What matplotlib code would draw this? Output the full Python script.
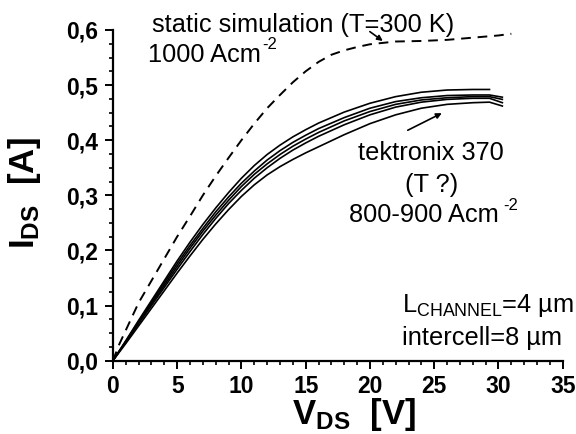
import matplotlib
matplotlib.use('Agg')
import matplotlib.pyplot as plt
from matplotlib.ticker import MultipleLocator, FixedLocator

plt.rcParams['font.family'] = 'Liberation Sans'
plt.rcParams['mathtext.fontset'] = 'custom'
plt.rcParams['mathtext.rm'] = 'Liberation Sans'
plt.rcParams['mathtext.bf'] = 'Liberation Sans:bold'
plt.rcParams['mathtext.it'] = 'Liberation Sans:italic'

# static simulation (T=300 K), dashed
v_sim = [0, 0.5, 1, 2, 3, 4, 5, 6, 7, 8, 9, 10, 11, 12, 13, 14, 15, 16, 17, 18,
         19, 20, 22, 24, 26, 28, 30, 31]
i_sim = [0, 0.03, 0.055, 0.105, 0.145, 0.185, 0.225, 0.262, 0.30, 0.335, 0.368,
         0.40, 0.43, 0.458, 0.482, 0.505, 0.525, 0.542, 0.555, 0.563, 0.569,
         0.574, 0.579, 0.58, 0.582, 0.586, 0.59, 0.593]

# tektronix 370 measured traces
v_meas = [0, 1, 2, 3, 4, 5, 6, 7, 8, 9, 10, 11, 12, 13, 14, 15, 16, 18, 20,
          22, 24, 26, 28, 29.3, 30.3]
i_meas_a = [0, 0.036, 0.073, 0.109, 0.145, 0.181, 0.215, 0.247, 0.277, 0.305,
            0.331, 0.354, 0.374, 0.391, 0.406, 0.419, 0.431, 0.451, 0.467, 0.479,
            0.487, 0.491, 0.492, 0.492, None]
i_meas_b = [0, 0.035, 0.071, 0.106, 0.141, 0.176, 0.209, 0.240, 0.270, 0.297,
            0.322, 0.344, 0.364, 0.381, 0.396, 0.409, 0.421, 0.441, 0.458, 0.470,
            0.477, 0.481, 0.482, 0.482, 0.478]
i_meas_c = [0, 0.034, 0.069, 0.103, 0.137, 0.171, 0.204, 0.235, 0.264, 0.291,
            0.316, 0.338, 0.357, 0.374, 0.389, 0.402, 0.414, 0.435, 0.452, 0.465,
            0.473, 0.477, 0.479, 0.479, 0.474]
i_meas_d = [0, 0.033, 0.067, 0.100, 0.133, 0.166, 0.198, 0.229, 0.258, 0.285,
            0.309, 0.331, 0.350, 0.367, 0.382, 0.395, 0.407, 0.428, 0.446, 0.460,
            0.469, 0.474, 0.476, 0.476, 0.468]
i_meas_e = [0, 0.031, 0.063, 0.095, 0.127, 0.159, 0.190, 0.220, 0.248, 0.274,
            0.298, 0.319, 0.337, 0.352, 0.365, 0.377, 0.388, 0.410, 0.430, 0.446,
            0.458, 0.465, 0.468, 0.469, 0.462]

x_ticks = [0, 5, 10, 15, 20, 25, 30, 35]
x_labels = ['0', '5', '10', '15', '20', '25', '30', '35']
y_ticks = [0.0, 0.1, 0.2, 0.3, 0.4, 0.5, 0.6]
y_labels = ['0,0', '0,1', '0,2', '0,3', '0,4', '0,5', '0,6']

fig = plt.figure(figsize=(5.76, 4.34), dpi=100)
ax = fig.add_axes([0.196, 0.169, 0.781, 0.762])

ax.plot(v_sim, i_sim, color='black', lw=1.4, dashes=(5, 3.5))
for trace in [i_meas_a, i_meas_b, i_meas_c, i_meas_d, i_meas_e]:
    pts = [(v, i) for v, i in zip(v_meas, trace) if i is not None]
    ax.plot([p[0] for p in pts], [p[1] for p in pts], color='black', lw=1.2)

ax.set_xlim(0, 35)
ax.set_ylim(0, 0.6)
ax.spines['top'].set_visible(False)
ax.spines['right'].set_visible(False)
ax.spines['left'].set_linewidth(1.6)
ax.spines['bottom'].set_linewidth(1.6)

ax.xaxis.set_major_locator(FixedLocator(x_ticks))
ax.set_xticklabels(x_labels)
ax.yaxis.set_major_locator(FixedLocator(y_ticks))
ax.set_yticklabels(y_labels)
ax.xaxis.set_minor_locator(MultipleLocator(1))
ax.yaxis.set_minor_locator(MultipleLocator(0.025))
ax.tick_params(which='major', direction='out', length=5.5, width=1.4, pad=5,
               labelsize=16.5)
ax.tick_params(which='minor', direction='out', length=3, width=1.2)
for lab in ax.get_xticklabels() + ax.get_yticklabels():
    lab.set_fontweight('bold')

# axis labels
ax.text(-0.196, 0.507, r'$\mathbf{I_{DS}}$  [A]', transform=ax.transAxes,
        rotation=90, ha='center', va='center', fontsize=25, fontweight='bold')
ax.text(0.536, -0.162, r'$\mathbf{V_{DS}}$  [V]', transform=ax.transAxes,
        ha='center', va='center', fontsize=25, fontweight='bold')


def add_super(txt, s, dx=1):
    # small raised "-2" right after a text object
    ax.annotate(s, xy=(1, 1), xycoords=txt, xytext=(dx, 4),
                textcoords='offset points', ha='left', va='top', fontsize=12)


# annotations
ax.text(3.03, 0.596, 'static simulation (T=300 K)', fontsize=18.3, va='baseline')
t1 = ax.text(2.72, 0.542, '1000 Acm', fontsize=18.3, va='baseline')
add_super(t1, '-2')
ax.annotate('', xy=(21.0, 0.580), xytext=(19.99, 0.597),
            arrowprops=dict(arrowstyle='-|>', color='black', lw=1.2,
                            mutation_scale=8, shrinkA=0, shrinkB=0))

ax.text(24.75, 0.364, 'tektronix 370', fontsize=18.3, ha='center', va='baseline')
ax.text(24.8, 0.306, '(T ?)', fontsize=18.3, ha='center', va='baseline')
t2 = ax.text(24.2, 0.251, '800-900 Acm', fontsize=18.3, ha='center', va='baseline')
add_super(t2, '-2', dx=3)
ax.annotate('', xy=(25.59, 0.449), xytext=(22.94, 0.418),
            arrowprops=dict(arrowstyle='-|>', color='black', lw=1.2,
                            mutation_scale=8, shrinkA=0, shrinkB=0))

ax.text(22.48, 0.088, r'L$_{\mathrm{CHANNEL}}$=4 µm', fontsize=18.3, va='baseline')
ax.text(22.48, 0.028, 'intercell=8 µm', fontsize=18.3, va='baseline')

fig.savefig('out.png', dpi=100)
